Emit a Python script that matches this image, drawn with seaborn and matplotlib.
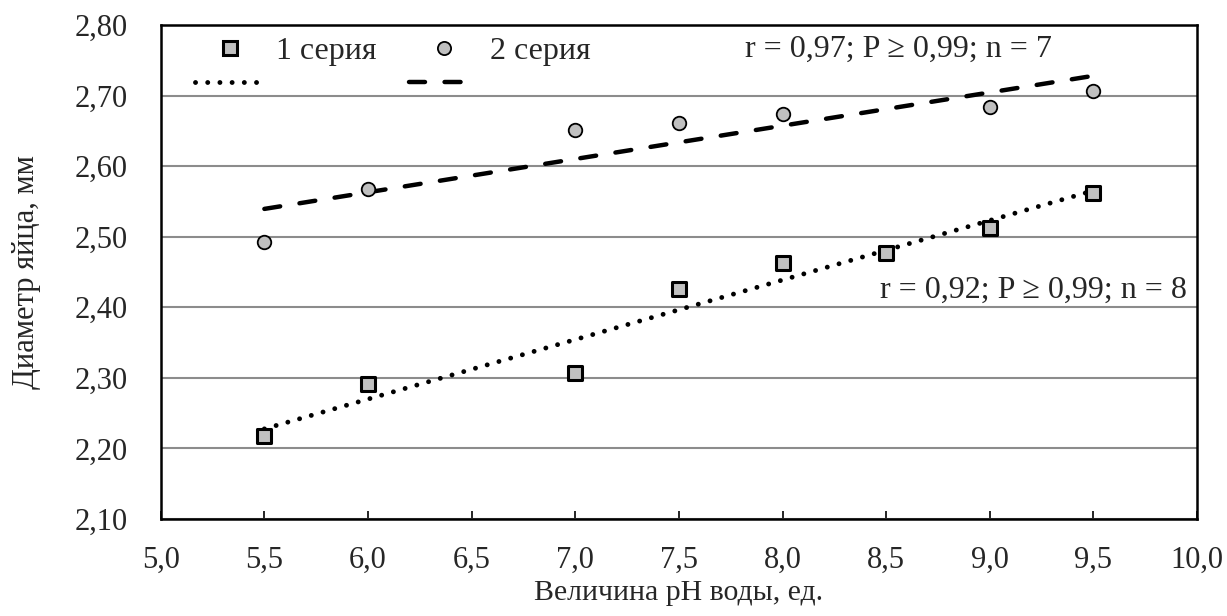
import numpy as np
import pandas as pd
import matplotlib
matplotlib.use("Agg")
import matplotlib.pyplot as plt
import seaborn as sns
from matplotlib.lines import Line2D

# Data
x1 = [5.5, 6.0, 7.0, 7.5, 8.0, 8.5, 9.0, 9.5]
y1 = [2.217, 2.291, 2.307, 2.426, 2.463, 2.477, 2.513, 2.562]
x2 = [5.5, 6.0, 7.0, 7.5, 8.0, 9.0, 9.5]
y2 = [2.493, 2.567, 2.651, 2.661, 2.674, 2.684, 2.706]
series_names = ["1 серия", "2 серия"]
note1 = "r = 0,92; P ≥ 0,99; n = 8"
note2 = "r = 0,97; P ≥ 0,99; n = 7"
xticks = [5.0, 5.5, 6.0, 6.5, 7.0, 7.5, 8.0, 8.5, 9.0, 9.5, 10.0]
yticks = [2.10, 2.20, 2.30, 2.40, 2.50, 2.60, 2.70, 2.80]

df1 = pd.DataFrame({"x": x1, "y": y1})
df2 = pd.DataFrame({"x": x2, "y": y2})

sns.set_theme(style="white")
plt.rcParams["font.family"] = ["Liberation Serif", "DejaVu Serif"]

FS = 22
FS2 = 23
fig = plt.figure(figsize=(12.27, 6.16), dpi=100)
ax = fig.add_axes([0.131, 0.1575, 0.8446, 0.8019])

gray = "#c0c0c0"
dot_style = (0, (0.01, 2.5))
dash_style = (0, (3.6, 4.4))

sns.regplot(data=df1, x="x", y="y", ax=ax, scatter=False, ci=None, truncate=True,
            line_kws=dict(color="black", lw=3.5, linestyle=dot_style,
                          dash_capstyle="round", zorder=3))
sns.regplot(data=df2, x="x", y="y", ax=ax, scatter=False, ci=None, truncate=True,
            line_kws=dict(color="black", lw=3.2, linestyle=dash_style,
                          dash_capstyle="round", zorder=3))

sns.scatterplot(data=df1, x="x", y="y", ax=ax, marker="s", s=110, color=gray,
                edgecolor="black", linewidth=2.2, zorder=4, legend=False)
sns.scatterplot(data=df2, x="x", y="y", ax=ax, marker="o", s=95, color=gray,
                edgecolor="black", linewidth=1.3, zorder=4, legend=False)

ax.set_xlim(5.0, 10.0)
ax.set_ylim(2.10, 2.80)
ax.set_xticks(xticks)
ax.set_yticks(yticks)
ax.set_xticklabels([f"{v:.1f}".replace(".", ",") for v in xticks], fontsize=FS)
ax.set_yticklabels([f"{v:.2f}".replace(".", ",") for v in yticks], fontsize=FS)
ax.tick_params(axis="x", direction="in", length=6, width=1.2, color="black", pad=19,
               bottom=True)
ax.tick_params(axis="y", length=0, pad=24)

ax.yaxis.grid(True, color="#8c8c8c", linewidth=1.5)
ax.xaxis.grid(False)
ax.set_axisbelow(True)
for sp in ax.spines.values():
    sp.set_visible(True)
    sp.set_color("black")
    sp.set_linewidth(1.8)

ax.set_xlabel("Величина pH воды, ед.", fontsize=21.5, labelpad=4)
ax.set_ylabel("Диаметр яйца, мм", fontsize=FS, labelpad=24)

ax.text(9.95, 2.4245, note1, fontsize=FS2, ha="right", va="center")
ax.text(9.30, 2.765, note2, fontsize=FS2, ha="right", va="center")

h1 = Line2D([], [], marker="s", color="none", markerfacecolor=gray,
            markeredgecolor="black", markeredgewidth=2.2, markersize=10)
h2 = Line2D([], [], marker="o", color="none", markerfacecolor=gray,
            markeredgecolor="black", markeredgewidth=1.3, markersize=9.5)
l1 = Line2D([], [], color="black", lw=3.5, linestyle=dot_style, dash_capstyle="round")
l2 = Line2D([], [], color="black", lw=3.2, linestyle=dash_style, dash_capstyle="round")
leg = ax.legend([h1, l1, h2, l2], [series_names[0], "", series_names[1], ""], ncol=2,
                loc="upper left", bbox_to_anchor=(0.033, 0.976), frameon=False,
                borderaxespad=0, borderpad=0,
                fontsize=FS2, handlelength=2.2, columnspacing=1.0, handletextpad=0.35,
                labelspacing=0.15)

fig.savefig("out.png", dpi=100, facecolor="white")
